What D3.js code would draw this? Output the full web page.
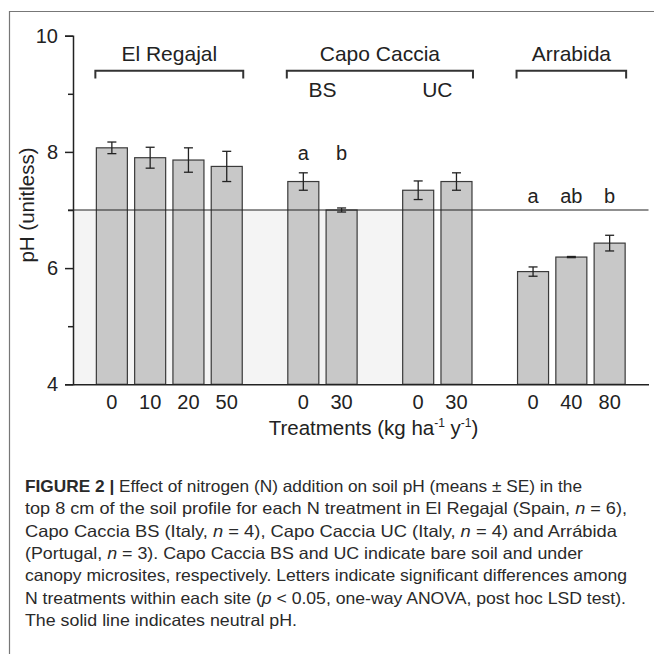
<!DOCTYPE html>
<html>
<head>
<meta charset="utf-8">
<style>
  body { margin: 0; background: #fff; }
  svg text { font-family: "Liberation Sans", Arial, sans-serif; }
</style>
<script src="https://cdn.jsdelivr.net/npm/d3@7"></script>
</head>
<body>
<svg id="chart" width="654" height="654"></svg>
<script>
// data
var groupNames = ["El Regajal", "Capo Caccia BS", "Capo Caccia UC", "Arrabida"];
var groupTreatments = [["0", "10", "20", "50"], ["0", "30"], ["0", "30"], ["0", "40", "80"]];
var groupMeans = [[8.07, 7.90, 7.86, 7.75], [7.49, 7.00], [7.34, 7.49], [5.94, 6.19, 6.43]];
var groupSE = [[0.10, 0.18, 0.21, 0.26], [0.15, 0.035], [0.16, 0.15], [0.08, 0.01, 0.135]];
var groupLetters = [[], ["a", "b"], [], ["a", "ab", "b"]];
var subLabels = ["", "BS", "UC", ""];
var siteLabels = ["El Regajal", "Capo Caccia", "Arrabida"];
var siteGroups = [[0], [1, 2], [3]];
var majorTicks = [4, 6, 8, 10];
var minorTicks = [5, 7, 9];
var neutralPH = 7;

var captionLines = [
  [["b", "FIGURE 2 | "], ["", "Effect of nitrogen (N) addition on soil pH (means \u00b1 SE) in the"]],
  [["", "top 8 cm of the soil profile for each N treatment in El Regajal (Spain, "], ["i", "n"], ["", " = 6),"]],
  [["", "Capo Caccia BS (Italy, "], ["i", "n"], ["", " = 4), Capo Caccia UC (Italy, "], ["i", "n"], ["", " = 4) and Arr\u00e1bida"]],
  [["", "(Portugal, "], ["i", "n"], ["", " = 3). Capo Caccia BS and UC indicate bare soil and under"]],
  [["", "canopy microsites, respectively. Letters indicate significant differences among"]],
  [["", "N treatments within each site ("], ["i", "p"], ["", " < 0.05, one-way ANOVA, post hoc LSD test)."]],
  [["", "The solid line indicates neutral pH."]]
];
var captionWidths = [557, 602, 592, 558, 602, 601, 272];

// flatten to bar records, with a spacer slot between groups
var bars = [], slots = [];
groupNames.forEach(function (g, gi) {
  if (gi > 0) slots.push("gap" + gi);
  groupTreatments[gi].forEach(function (t, ti) {
    var key = g + "|" + t;
    slots.push(key);
    bars.push({ key: key, group: gi, label: t, mean: groupMeans[gi][ti],
      se: groupSE[gi][ti], letter: groupLetters[gi][ti] || "" });
  });
});

var svg = d3.select("#chart");
var ink = "#222";

var x = d3.scaleBand().domain(slots).range([73, 648.5]).paddingInner(0.19).paddingOuter(0.61);
var y = d3.scaleLinear().domain([4, 10]).range([384.3, 35.7]);

// outer frame
svg.append("path").attr("d", "M9.5,654V11.5H654")
  .attr("fill", "none").attr("stroke", "#777").attr("stroke-width", 1.2);

// faint shading below neutral line
svg.append("rect")
  .attr("x", 73).attr("y", y(neutralPH))
  .attr("width", x(groupNames[2] + "|0") - 73)
  .attr("height", y(4) - y(neutralPH))
  .attr("fill", "#f4f4f4");

// bars
svg.selectAll(".bar").data(bars).enter().append("rect")
  .attr("class", "bar")
  .attr("x", function (d) { return x(d.key); })
  .attr("y", function (d) { return y(d.mean); })
  .attr("width", x.bandwidth())
  .attr("height", function (d) { return y(4) - y(d.mean); })
  .attr("fill", "#c8c8c8").attr("stroke", "#3a3a3a").attr("stroke-width", 1.2);

// neutral pH line
svg.append("line")
  .attr("x1", 68).attr("x2", x.range()[1])
  .attr("y1", y(neutralPH)).attr("y2", y(neutralPH))
  .attr("stroke", ink).attr("stroke-width", 1.1);

// error bars
var eb = svg.selectAll(".err").data(bars).enter().append("g").attr("class", "err")
  .attr("stroke", ink).attr("stroke-width", 1.3);
eb.append("line")
  .attr("x1", function (d) { return x(d.key) + x.bandwidth() / 2; })
  .attr("x2", function (d) { return x(d.key) + x.bandwidth() / 2; })
  .attr("y1", function (d) { return y(d.mean + d.se); })
  .attr("y2", function (d) { return y(d.mean - d.se); });
[1, -1].forEach(function (s) {
  eb.append("line")
    .attr("x1", function (d) { return x(d.key) + x.bandwidth() / 2 - 4.5; })
    .attr("x2", function (d) { return x(d.key) + x.bandwidth() / 2 + 4.5; })
    .attr("y1", function (d) { return y(d.mean + s * d.se); })
    .attr("y2", function (d) { return y(d.mean + s * d.se); });
});

// significance letters
svg.selectAll(".letter").data(bars.filter(function (d) { return d.letter; })).enter()
  .append("text").attr("class", "letter")
  .attr("x", function (d) { return x(d.key) + x.bandwidth() / 2; })
  .attr("y", function (d) { return d.group === 1 ? 159.5 : 202.7; })
  .attr("text-anchor", "middle").attr("font-size", 20).attr("fill", ink)
  .text(function (d) { return d.letter; });

// y axis
var yAxis = svg.append("g").attr("transform", "translate(73,0)")
  .call(d3.axisLeft(y).tickValues(majorTicks).tickSize(8).tickPadding(7).tickFormat(d3.format("d")));
yAxis.select(".domain").attr("stroke", ink).attr("stroke-width", 1.5);
yAxis.selectAll(".tick line").attr("stroke", ink).attr("stroke-width", 1.5);
yAxis.selectAll("text").attr("font-size", 20).attr("fill", ink).style("font-family", "Liberation Sans, Arial, sans-serif");

var yMinor = svg.append("g").attr("transform", "translate(73,0)")
  .call(d3.axisLeft(y).tickValues(minorTicks).tickSize(5).tickFormat(""));
yMinor.select(".domain").remove();
yMinor.selectAll(".tick line").attr("stroke", ink).attr("stroke-width", 1.5);

// x axis
var labelOf = {};
bars.forEach(function (d) { labelOf[d.key] = d.label; });
var xAxis = svg.append("g").attr("transform", "translate(0," + y(4) + ")")
  .call(d3.axisBottom(x).tickSize(0).tickPadding(11).tickFormat(function (k) { return labelOf[k] || ""; }));
xAxis.select(".domain").attr("stroke", ink).attr("stroke-width", 1.5);
xAxis.selectAll("text").attr("font-size", 20).attr("fill", ink).style("font-family", "Liberation Sans, Arial, sans-serif");

// axis titles
svg.append("text")
  .attr("transform", "translate(34,205) rotate(-90)")
  .attr("text-anchor", "middle").attr("font-size", 20.5).attr("fill", ink)
  .text("pH (unitless)");

var xt = svg.append("text").attr("x", 373.5).attr("y", 435)
  .attr("text-anchor", "middle").attr("font-size", 20.5).attr("fill", ink);
xt.append("tspan").text("Treatments (kg ha");
xt.append("tspan").attr("dy", -8).attr("font-size", 12).text("-1");
xt.append("tspan").attr("dy", 8).text(" y");
xt.append("tspan").attr("dy", -8).attr("font-size", 12).text("-1");
xt.append("tspan").attr("dy", 8).text(")");

// site brackets and labels
siteLabels.forEach(function (s, si) {
  var gs = siteGroups[si];
  var first = bars.filter(function (d) { return d.group === gs[0]; })[0];
  var lastGroup = bars.filter(function (d) { return d.group === gs[gs.length - 1]; });
  var last = lastGroup[lastGroup.length - 1];
  var x0 = x(first.key) - 1, x1 = x(last.key) + x.bandwidth() + 1;
  svg.append("path")
    .attr("d", "M" + x0 + ",78.5V70.7H" + x1 + "V78.5")
    .attr("fill", "none").attr("stroke", "#333").attr("stroke-width", 2);
  svg.append("text").attr("x", (x0 + x1) / 2).attr("y", 60.7)
    .attr("text-anchor", "middle").attr("font-size", 21).attr("fill", ink).text(s);
});

subLabels.forEach(function (s, gi) {
  if (!s) return;
  var gb = bars.filter(function (d) { return d.group === gi; });
  var cx = (x(gb[0].key) + x(gb[gb.length - 1].key) + x.bandwidth()) / 2;
  svg.append("text").attr("x", cx).attr("y", 97.2)
    .attr("text-anchor", "middle").attr("font-size", 21).attr("fill", ink).text(s);
});

// caption
captionLines.forEach(function (parts, i) {
  var t = svg.append("text").attr("x", 25).attr("y", 492 + i * 22.3)
    .attr("font-size", 16.5).attr("fill", "#2a2a2a")
    .attr("textLength", captionWidths[i]).attr("lengthAdjust", "spacingAndGlyphs");
  parts.forEach(function (p) {
    var ts = t.append("tspan").text(p[1]);
    if (p[0] === "b") ts.attr("font-weight", "bold");
    if (p[0] === "i") ts.attr("font-style", "italic");
  });
});
</script>
</body>
</html>
